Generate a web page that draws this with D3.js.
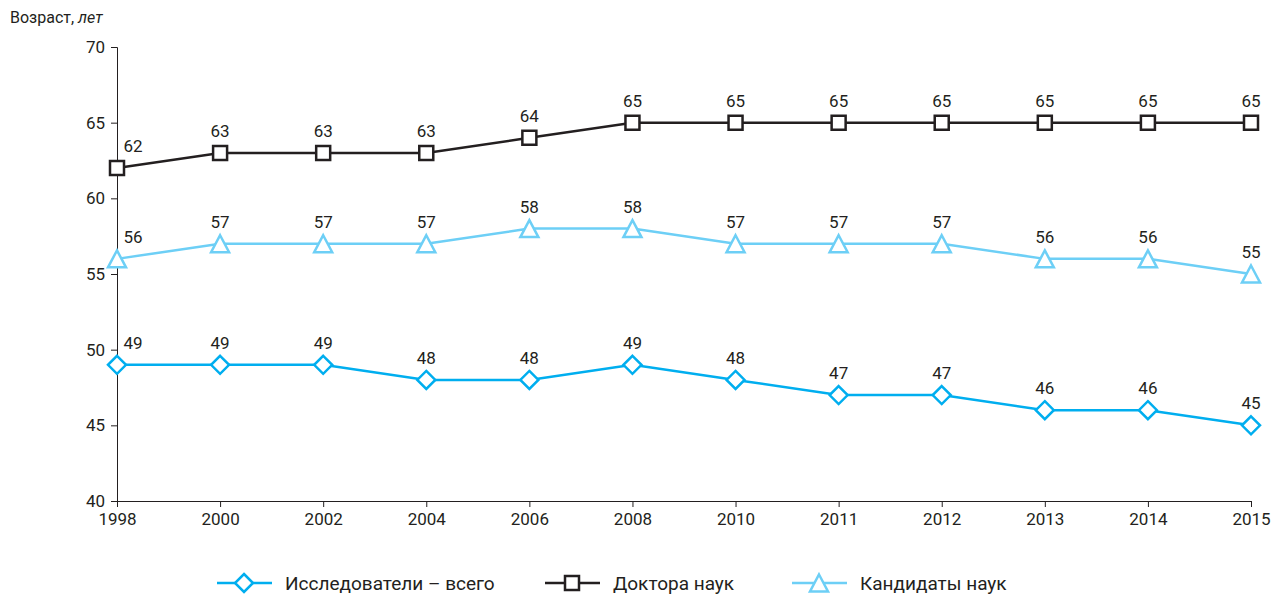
<!DOCTYPE html>
<html>
<head>
<meta charset="utf-8">
<script src="https://cdn.jsdelivr.net/npm/d3@7"></script>
<style>
    body { margin: 0; background: #fff; }
    svg text { font-family: "Liberation Sans Narrow", "Roboto", "DejaVu Sans Condensed", sans-serif; fill: #231f20; }
</style>
</head>
<body>
<div id="chart"></div>
<script>
// data
const years = ["1998", "2000", "2002", "2004", "2006", "2008", "2010", "2011", "2012", "2013", "2014", "2015"];
const researchersAll = [49, 49, 49, 48, 48, 49, 48, 47, 47, 46, 46, 45];
const doctors = [62, 63, 63, 63, 64, 65, 65, 65, 65, 65, 65, 65];
const candidates = [56, 57, 57, 57, 58, 58, 57, 57, 57, 56, 56, 55];
const yTicks = [40, 45, 50, 55, 60, 65, 70];

const width = 1273;
const height = 597;
const margins = { top: 47, left: 117, right: 22, bottom: 96 };

// marker shapes as path strings, centred on 0,0
const diamond = "M0,-9L9,0L0,9L-9,0Z";
const square = "M-7,-7H7V7H-7Z";
const triangle = "M0,-8.5L9,8.5H-9Z";

const series = [
    { name: "Исследователи – всего", values: researchersAll, color: "#00aeef", marker: diamond, legendX: 217 },
    { name: "Доктора наук", values: doctors, color: "#231f20", marker: square, legendX: 545 },
    { name: "Кандидаты наук", values: candidates, color: "#6dcff6", marker: triangle, legendX: 792 }
];

const svg = d3.select("#chart")
    .append("svg")
        .attr("width", width)
        .attr("height", height);

const x = d3.scalePoint()
    .domain(years)
    .range([margins.left, width - margins.right]);

const y = d3.scaleLinear()
    .domain([40, 70])
    .range([height - margins.bottom, margins.top]);

// axes
const yAxis = svg.append("g")
    .attr("transform", `translate(${margins.left},0)`)
    .call(d3.axisLeft(y).tickValues(yTicks).tickSize(6).tickPadding(6));

const xAxis = svg.append("g")
    .attr("transform", `translate(0,${height - margins.bottom})`)
    .call(d3.axisBottom(x).tickSize(6).tickPadding(6));

[xAxis, yAxis].forEach(axis => {
    axis.select(".domain").attr("stroke", "#231f20");
    axis.selectAll(".tick line").attr("stroke", "#231f20");
    axis.selectAll("text").style("font-size", "17px").attr("fill", "#231f20");
});

// axis title
const title = svg.append("text")
    .attr("x", 10)
    .attr("y", 23)
    .style("font-size", "16px")
    .style("font-family", "Roboto, sans-serif");
title.append("tspan").text("Возраст, ");
title.append("tspan").style("font-style", "italic").text("лет");

const line = d3.line()
    .x((d, i) => x(years[i]))
    .y(d => y(d));

series.forEach(s => {
    svg.append("path")
        .datum(s.values)
        .attr("fill", "none")
        .attr("stroke", s.color)
        .attr("stroke-width", 2.5)
        .attr("d", line);

    svg.append("g")
        .selectAll("path")
        .data(s.values)
        .join("path")
            .attr("transform", (d, i) => `translate(${x(years[i])},${y(d)})`)
            .attr("d", s.marker)
            .attr("fill", "#fff")
            .attr("stroke", s.color)
            .attr("stroke-width", 2.5);

    svg.append("g")
        .selectAll("text")
        .data(s.values)
        .join("text")
            .attr("x", (d, i) => x(years[i]) + (i === 0 ? 16 : 0))
            .attr("y", d => y(d) - 16)
            .attr("text-anchor", "middle")
            .style("font-size", "17px")
            .text(d => d);
});

// legend
const legendY = 583;
series.forEach(s => {
    const g = svg.append("g");
    g.append("line")
        .attr("x1", s.legendX)
        .attr("x2", s.legendX + 55)
        .attr("y1", legendY)
        .attr("y2", legendY)
        .attr("stroke", s.color)
        .attr("stroke-width", 2.5);
    g.append("path")
        .attr("transform", `translate(${s.legendX + 27},${legendY})`)
        .attr("d", s.marker)
        .attr("fill", "#fff")
        .attr("stroke", s.color)
        .attr("stroke-width", 2.5);
    g.append("text")
        .attr("x", s.legendX + 68)
        .attr("y", legendY + 7)
        .style("font-size", "19px")
        .style("font-family", "Roboto, sans-serif")
        .text(s.name);
});
</script>
</body>
</html>
